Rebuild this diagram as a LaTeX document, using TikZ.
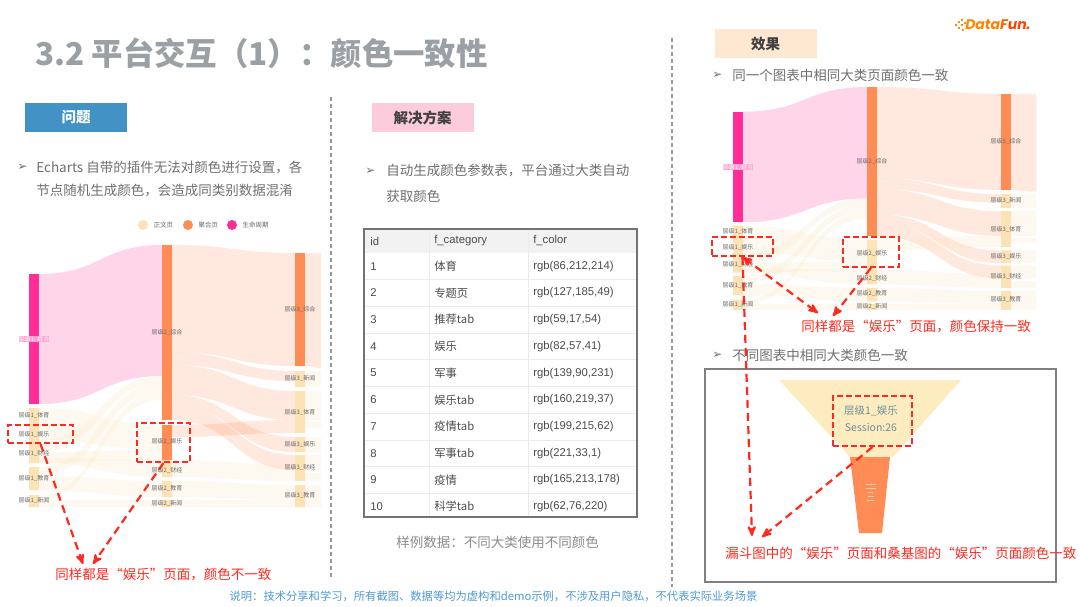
\documentclass[tikz,border=0pt]{standalone}
\usepackage{fontspec}
\setmainfont{Noto Sans CJK SC}
\newfontfamily\tabfont{Liberation Sans}
\newfontfamily\symfont{DejaVu Sans}
\newfontfamily\logofont{Poppins}
\usepackage{tikz}
\usetikzlibrary{arrows,positioning}
\definecolor{titlegray}{HTML}{9AA0A4}
\definecolor{bodygray}{HTML}{707070}
\definecolor{redmark}{HTML}{FF2A1F}
\definecolor{barpink}{HTML}{FF2D96}
\definecolor{barorange}{HTML}{FF8C55}
\definecolor{barlight}{HTML}{FCE3B6}
\definecolor{funnellight}{HTML}{FDECC0}
\definecolor{headblue}{HTML}{4292C6}
\definecolor{headpink}{HTML}{FCCBDC}
\definecolor{headpeach}{HTML}{FEE8D2}
\definecolor{notecolor}{HTML}{4F9BD0}
\definecolor{sessioncolor}{HTML}{6F8E96}
\tikzset{
  flowpink/.style={fill=barpink,fill opacity=.2},
  floworange/.style={fill=barorange,fill opacity=.2},
  flowlight/.style={fill=barlight,fill opacity=.2},
  pagelabel/.style={font=\fontsize{6}{6}\selectfont,text=black!60,inner sep=0pt}
}
\newcommand{\band}[7]{%
  \pgfmathsetmacro\bandmid{(#2+#5)/2}
  \fill[#1] (#2,#3) .. controls (\bandmid,#3) and (\bandmid,#6) .. (#5,#6)
    -- (#5,#7) .. controls (\bandmid,#7) and (\bandmid,#4) .. (#2,#4) -- cycle;}
% #1 name, #2 colour of the middle bar, #3 style of its flow, #4 end of the tails
\newcommand{\sankeychart}[4]{%
  \band{flowpink}{39}{274}{404}{162}{245}{376}
  \foreach \ta/\ba/\tb/\bb in {408/428/425/440,428/440/440/450,440/452/376/383,452/463/450/460,
      467/476/383/392,476/490/481/497,495/500/392/400,500/507/500/507,458/463/460/477}
    {\band{flowlight}{39}{\ta}{\ba}{162}{\tb}{\bb}}
  \foreach \ta/\ba/\tb/\bb in {245/352/253/366,352/365/371/381,365/395/391/420,395/405/437/452,405/420/455/470}
    {\band{floworange}{172}{\ta}{\ba}{295}{\tb}{\bb}}
  \band{#3}{172}{425}{437}{295}{420}{433}
  \foreach \ta/\ba/\tb/\bb in {460/477/465/481,481/497/485/500,500/507/500/507}
    {\band{flowlight}{172}{\ta}{\ba}{295}{\tb}{\bb}}
  \band{floworange}{305}{253}{366}{#4}{253}{368}
  \foreach \ta/\ba in {371/387,391/420,422/428,437/452,455/470,473/481,485/507}
    {\band{flowlight}{305}{\ta}{\ba}{#4}{\ta}{\ba}}
  \fill[barpink] (29,274) rectangle (39,404);
  \fill[barlight] (29,408) rectangle (39,463) (29,467) rectangle (39,490) (29,495) rectangle (39,507);
  \fill[barorange] (162,245) rectangle (172,420);
  \fill[#2] (162,425) rectangle (172,460);
  \fill[barlight] (162,460) rectangle (172,477) (162,481) rectangle (172,497) (162,500) rectangle (172,507);
  \fill[barorange] (295,253) rectangle (305,366);
  \fill[barlight] (295,371) rectangle (305,387) (295,391) rectangle (305,433) (295,437) rectangle (305,452)
    (295,455) rectangle (305,481) (295,485) rectangle (305,507);
  \node[pagelabel,fill=barpink!45,text=white] (#1top) at (34,339) {层级1\_综合};
  \foreach \lname/\lx/\ly/\ltext in {a/34/415/层级1\_体育,b/34/434/层级1\_娱乐,c/34/453/层级1\_财经,
      d/34/478/层级1\_教育,e/34/500/层级1\_新闻,f/167/332/层级2\_综合,g/167/441/层级2\_娱乐,
      h/167/470/层级2\_财经,i/167/488/层级2\_教育,j/167/503/层级2\_新闻,k/300/309/层级3\_综合,
      l/300/378/层级3\_新闻,m/300/412/层级3\_体育,n/300/444/层级3\_娱乐,o/300/467/层级3\_财经,
      p/300/495/层级3\_教育}
    {\node[pagelabel] (#1\lname) at (\lx,\ly) {\ltext};}
}

\begin{document}
\begin{tikzpicture}[x=1pt,y=-1pt,>=stealth',semithick]
  \tikzstyle{headbox}=[minimum width=102pt,minimum height=29pt,inner sep=0pt,font=\fontsize{14.5}{16}\selectfont\bfseries]
  \tikzstyle{bullet}=[anchor=west,inner sep=0pt,text=bodygray,font=\symfont\fontsize{12}{12}\selectfont]
  \tikzstyle{bodytext}=[anchor=west,inner sep=0pt,text=bodygray,font=\fontsize{13.5}{15}\selectfont]
  \tikzstyle{redtext}=[anchor=west,inner sep=0pt,text=redmark,font=\fontsize{13.5}{15}\selectfont]
  \tikzstyle{redbox}=[draw=redmark,line width=2pt,dash pattern=on 6pt off 3pt,inner sep=0pt]
  \tikzstyle{redarrow}=[->,draw=redmark,line width=2.2pt,dash pattern=on 8pt off 5pt]
  \tikzstyle{divider}=[draw=black!40,line width=1.1pt,dash pattern=on 4pt off 3pt]
  \tikzstyle{legendmark}=[circle,minimum size=10pt,inner sep=0pt]
  \tikzstyle{legendtext}=[inner sep=0pt,text=black!60,font=\fontsize{6.5}{7}\selectfont]
  \tikzstyle{cell}=[anchor=west,inner sep=0pt,text=black!70,font=\tabfont\fontsize{11.3}{13}\selectfont]

  \useasboundingbox (0,0) rectangle (1080,607);
  \fill[white] (0,0) rectangle (1080,607);

  \node[anchor=west,inner sep=0pt,text=titlegray,font=\fontsize{31.4}{36}\selectfont\bfseries] (title) at (35,53) {3.2 平台交互（1）：颜色一致性};

  % logo
  \foreach \dx/\dy in {955/24,958/21,961/24,958/27,961/19,964/22,962/29}
    {\fill[orange!90!yellow] (\dx,\dy) rectangle +(2,2);}
  \node[anchor=west,inner sep=0pt,font=\logofont\bfseries\itshape\fontsize{14}{16}\selectfont] (logo) at (965,25)
    {\textcolor{orange!90!yellow}{Da}\textcolor{orange}{ta}\textcolor{orange!80!red}{F}\textcolor{orange!50!red}{un.}};

  \coordinate (divAtop) at (331,97);
  \coordinate (divAbot) at (331,580);
  \coordinate (divBtop) at (672,38);
  \coordinate (divBbot) at (672,587);
  \path (divAtop) edge[divider] (divAbot) (divBtop) edge[divider] (divBbot);

  % left column
  \node[headbox,fill=headblue,text=white] (problem) at (76,117.5) {问题};
  \node[bullet] (bulA) at (17,167) {➢};
  \node[bodytext] (probA) at (36,167) {Echarts 自带的插件无法对颜色进行设置，各};
  \node[bodytext] (probB) at (36,191) {节点随机生成颜色，会造成同类别数据混淆};
  \node[legendmark,fill=barlight] (legA) at (143,225) {};
  \node[legendmark,fill=barorange] (legB) at (188,225) {};
  \node[legendmark,fill=barpink] (legC) at (232,225) {};
  \node[legendtext,right=5pt of legA] (legAt) {正文页};
  \node[legendtext,right=5pt of legB] (legBt) {聚合页};
  \node[legendtext,right=5pt of legC] (legCt) {生命周期};
  \sankeychart{left}{barorange}{floworange}{321}
  \node[redbox,minimum width=65pt,minimum height=18pt] (redA) at (40.5,434) {};
  \node[redbox,minimum width=53pt,minimum height=39pt] (redB) at (163.5,442.5) {};
  \node[redtext] (sameA) at (55,575) {同样都是“娱乐”页面，颜色不一致};
  \coordinate (tipA) at (83,564);
  \coordinate (tipB) at (93,564);
  \path (redA.south) edge[redarrow] (tipA) (redB.south) edge[redarrow] (tipB);

  % middle column
  \node[headbox,fill=headpink,text=black!75] (solution) at (422.5,117.5) {解决方案};
  \node[bullet] (bulB) at (365,171) {➢};
  \node[bodytext] (solA) at (386,171) {自动生成颜色参数表，平台通过大类自动};
  \node[bodytext] (solB) at (386,196) {获取颜色};
  \fill[black!5] (364,229) rectangle (637,253);
  \foreach \i in {1,...,9}
    {\draw[black!8,line width=.8pt] (364,253+26.7*\i) -- (637,253+26.7*\i);}
  \draw[black!8,line width=.8pt] (429,229) -- (429,517) (528,229) -- (528,517);
  \draw[black!55,line width=1.6pt] (364,229) rectangle (637,517);
  \node[cell] (idhead) at (370,241) {id};
  \node[cell] (cathead) at (434,241) {f\_category};
  \node[cell] (colhead) at (533,241) {f\_color};
  \foreach \idx/\cat/\col in {1/体育/{rgb(86,212,214)},2/专题页/{rgb(127,185,49)},3/推荐tab/{rgb(59,17,54)},
      4/娱乐/{rgb(82,57,41)},5/军事/{rgb(139,90,231)},6/娱乐tab/{rgb(160,219,37)},7/疫情tab/{rgb(199,215,62)},
      8/军事tab/{rgb(221,33,1)},9/疫情/{rgb(165,213,178)},10/科学tab/{rgb(62,76,220)}}
    {\node[cell] (id\idx) at (370,239.6+26.7*\idx) {\idx};
     \node[cell,font=\fontsize{11.3}{13}\selectfont] (cat\idx) at (434,239.6+26.7*\idx) {\cat};
     \node[cell] (col\idx) at (533,239.6+26.7*\idx) {\col};}
  \node[bodytext,text=black!45] (sample) at (396,542) {样例数据：不同大类使用不同颜色};

  % right column
  \node[headbox,fill=headpeach,text=black!75] (effect) at (765.5,43.5) {效果};
  \node[bullet] (bulC) at (712,75) {➢};
  \node[bodytext] (sameB) at (732,75) {同一个图表中相同大类页面颜色一致};
  \begin{scope}[shift={(703.8,-121.5)},xscale=1.0075,yscale=.851]
    \sankeychart{right}{barlight}{flowlight}{330}
  \end{scope}
  \node[redbox,minimum width=61pt,minimum height=19pt] (redC) at (742.5,246.5) {};
  \node[redbox,minimum width=56pt,minimum height=30pt] (redD) at (871,252) {};
  \node[redtext] (sameC) at (801,327) {同样都是“娱乐”页面，颜色保持一致};
  \node[bullet] (bulD) at (712,355) {➢};
  \node[bodytext] (sameD) at (732,355) {不同图表中相同大类颜色一致};

  \draw[black!50,line width=1.8pt] (705,369) rectangle (1056,582);
  \fill[funnellight] (779,380) -- (961,380) -- (893,457) -- (850,457) -- cycle;
  \fill[barorange] (850,457) -- (890,457) -- (882,533) -- (859,533) -- cycle;
  \foreach \r/\w in {1/5,2/5,3/2.5,4/3,5/3.5}
    {\fill[white,opacity=.55] (870.5-\w,480+4*\r) rectangle (870.5+\w,481+4*\r);}
  \node[inner sep=0pt,text=sessioncolor,font=\fontsize{10.5}{12}\selectfont] (funA) at (871,411) {层级1\_娱乐};
  \node[inner sep=0pt,text=sessioncolor,font=\fontsize{10.5}{12}\selectfont] (funB) at (871,427) {Session:26};
  \node[redbox,minimum width=79pt,minimum height=50pt] (redE) at (872.5,421) {};
  \node[redtext] (sameE) at (725,553) {漏斗图中的“娱乐”页面和桑基图的“娱乐”页面颜色一致};

  \coordinate (tipC) at (818,313);
  \coordinate (tipD) at (833,316);
  \coordinate (tipE) at (752,536);
  \coordinate (tipF) at (762,537);
  \path (redC.south) edge[redarrow,<->] (tipC)
    (redD.south) edge[redarrow] (tipD)
    (redC.south) edge[redarrow] (tipE)
    (redE.south) edge[redarrow] (tipF);

  \node[inner sep=0pt,text=notecolor,font=\fontsize{11.3}{13}\selectfont] (note) at (493.5,596)
    {说明：技术分享和学习，所有截图、数据等均为虚构和demo示例，不涉及用户隐私，不代表实际业务场景};
\end{tikzpicture}
\end{document}
